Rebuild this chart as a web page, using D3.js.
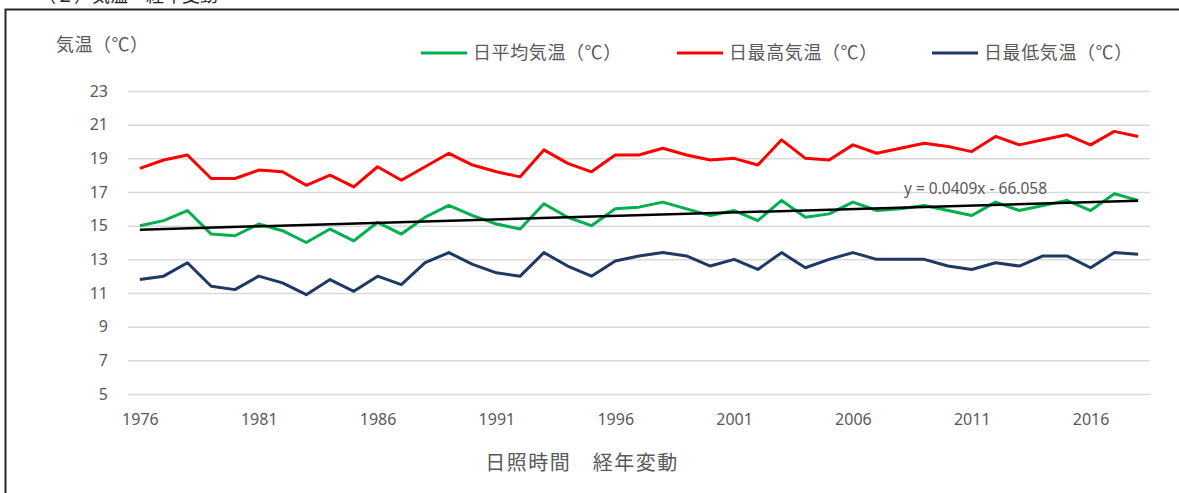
<!DOCTYPE html>
<html>
<head>
<meta charset="utf-8">
<script src="https://cdn.jsdelivr.net/npm/d3@7"></script>
<style>
  html, body { margin: 0; padding: 0; background: #fff; }
  svg { display: block; }
  text { fill: #595959; }
</style>
</head>
<body>
<div id="chart"></div>
<script>
// data
var years = d3.range(1976, 2019);
var avgTemp = [15.0, 15.3, 15.9, 14.5, 14.4, 15.1, 14.7, 14.0, 14.8, 14.1,
  15.2, 14.5, 15.5, 16.2, 15.6, 15.1, 14.8, 16.3, 15.5, 15.0,
  16.0, 16.1, 16.4, 16.0, 15.6, 15.9, 15.3, 16.5, 15.5, 15.7,
  16.4, 15.9, 16.0, 16.2, 15.9, 15.6, 16.4, 15.9, 16.2, 16.5,
  15.9, 16.9, 16.5];
var maxTemp = [18.4, 18.9, 19.2, 17.8, 17.8, 18.3, 18.2, 17.4, 18.0, 17.3,
  18.5, 17.7, 18.5, 19.3, 18.6, 18.2, 17.9, 19.5, 18.7, 18.2,
  19.2, 19.2, 19.6, 19.2, 18.9, 19.0, 18.6, 20.1, 19.0, 18.9,
  19.8, 19.3, 19.6, 19.9, 19.7, 19.4, 20.3, 19.8, 20.1, 20.4,
  19.8, 20.6, 20.3];
var minTemp = [11.8, 12.0, 12.8, 11.4, 11.2, 12.0, 11.6, 10.9, 11.8, 11.1,
  12.0, 11.5, 12.8, 13.4, 12.7, 12.2, 12.0, 13.4, 12.6, 12.0,
  12.9, 13.2, 13.4, 13.2, 12.6, 13.0, 12.4, 13.4, 12.5, 13.0,
  13.4, 13.0, 13.0, 13.0, 12.6, 12.4, 12.8, 12.6, 13.2, 13.2,
  12.5, 13.4, 13.3];
var yTicks = [5, 7, 9, 11, 13, 15, 17, 19, 21, 23];
var xTickYears = [1976, 1981, 1986, 1991, 1996, 2001, 2006, 2011, 2016];
// linear trend of the average (from the chart label)
var trendSlope = 0.0409, trendIntercept = -66.058;

var series = [
  { name: '日平均気温（℃）', values: avgTemp, color: '#00b050' },
  { name: '日最高気温（℃）', values: maxTemp, color: '#ff0000' },
  { name: '日最低気温（℃）', values: minTemp, color: '#203864' }
];

var width = 1179, height = 493;
var jp = '"Noto Sans CJK JP", sans-serif';
var num = '"Noto Sans", "Noto Sans CJK JP", sans-serif';

var svg = d3.select('#chart').append('svg')
  .attr('width', width)
  .attr('height', height);

// chart frame (top/left edges visible, rest cut off)
svg.append('rect')
  .attr('x', 5.5).attr('y', 9.5)
  .attr('width', width + 20).attr('height', height + 20)
  .attr('fill', 'none')
  .attr('stroke', '#262626')
  .attr('stroke-width', 2);

// section heading, mostly cut off above
svg.append('text')
  .attr('x', 38).attr('y', 2)
  .style('font-family', jp)
  .style('font-size', '18px')
  .style('fill', '#262626')
  .text('（２）気温・経年変動');

var x = d3.scalePoint()
  .domain(years)
  .range([128, 1150])
  .padding(0.5);

var y = d3.scaleLinear()
  .domain([5, 23])
  .range([394, 91]);

// grid + y labels
var yAxis = svg.append('g')
  .attr('transform', 'translate(128,0)')
  .call(d3.axisLeft(y).tickValues(yTicks).tickSize(-(1150 - 128)).tickPadding(20));
yAxis.select('.domain').remove();
yAxis.selectAll('.tick line')
  .attr('stroke', '#d9d9d9')
  .attr('stroke-width', 1.5);
yAxis.selectAll('.tick text')
  .style('font-family', num)
  .style('font-size', '16px')
  .style('fill', '#595959');

// x labels
var xAxis = svg.append('g')
  .attr('transform', 'translate(0,408)')
  .call(d3.axisBottom(x).tickValues(xTickYears).tickSize(0).tickPadding(6));
xAxis.select('.domain').remove();
xAxis.selectAll('.tick text')
  .style('font-family', num)
  .style('font-size', '16px')
  .style('fill', '#595959');

// lines
var line = d3.line()
  .x(function (d, i) { return x(years[i]); })
  .y(function (d) { return y(d); });

svg.selectAll('.series')
  .data(series)
  .enter()
  .append('path')
  .attr('class', 'series')
  .attr('d', function (d) { return line(d.values); })
  .attr('fill', 'none')
  .attr('stroke', function (d) { return d.color; })
  .attr('stroke-width', 3)
  .attr('stroke-linejoin', 'round');

// trendline
var trendYears = [years[0], years[years.length - 1]];
svg.append('path')
  .attr('d', d3.line()
    .x(function (d) { return x(d); })
    .y(function (d) { return y(trendSlope * d + trendIntercept); })(trendYears))
  .attr('fill', 'none')
  .attr('stroke', '#000')
  .attr('stroke-width', 2.5);

svg.append('text')
  .attr('x', 904).attr('y', 194)
  .style('font-family', num)
  .style('font-size', '15.5px')
  .text('y = ' + trendSlope + 'x - ' + (-trendIntercept));

// legend
var legendX = [421, 677, 932];
var legend = svg.selectAll('.legend')
  .data(series)
  .enter()
  .append('g')
  .attr('class', 'legend')
  .attr('transform', function (d, i) { return 'translate(' + legendX[i] + ',53)'; });
legend.append('line')
  .attr('x1', 0).attr('x2', 46)
  .attr('stroke', function (d) { return d.color; })
  .attr('stroke-width', 3);
legend.append('text')
  .attr('x', 52)
  .attr('dy', '0.35em')
  .style('font-family', jp)
  .style('font-size', '18px')
  .style('letter-spacing', '0.6px')
  .text(function (d) { return d.name; });

// axis titles
svg.append('text')
  .attr('x', 56).attr('y', 45)
  .attr('dy', '0.35em')
  .style('font-family', jp)
  .style('font-size', '18px')
  .style('letter-spacing', '0.5px')
  .text('気温（℃）');

svg.append('text')
  .attr('x', 582).attr('y', 463)
  .attr('dy', '0.35em')
  .attr('text-anchor', 'middle')
  .style('font-family', jp)
  .style('font-size', '20px')
  .style('letter-spacing', '1.5px')
  .text('日照時間　経年変動');
</script>
</body>
</html>
